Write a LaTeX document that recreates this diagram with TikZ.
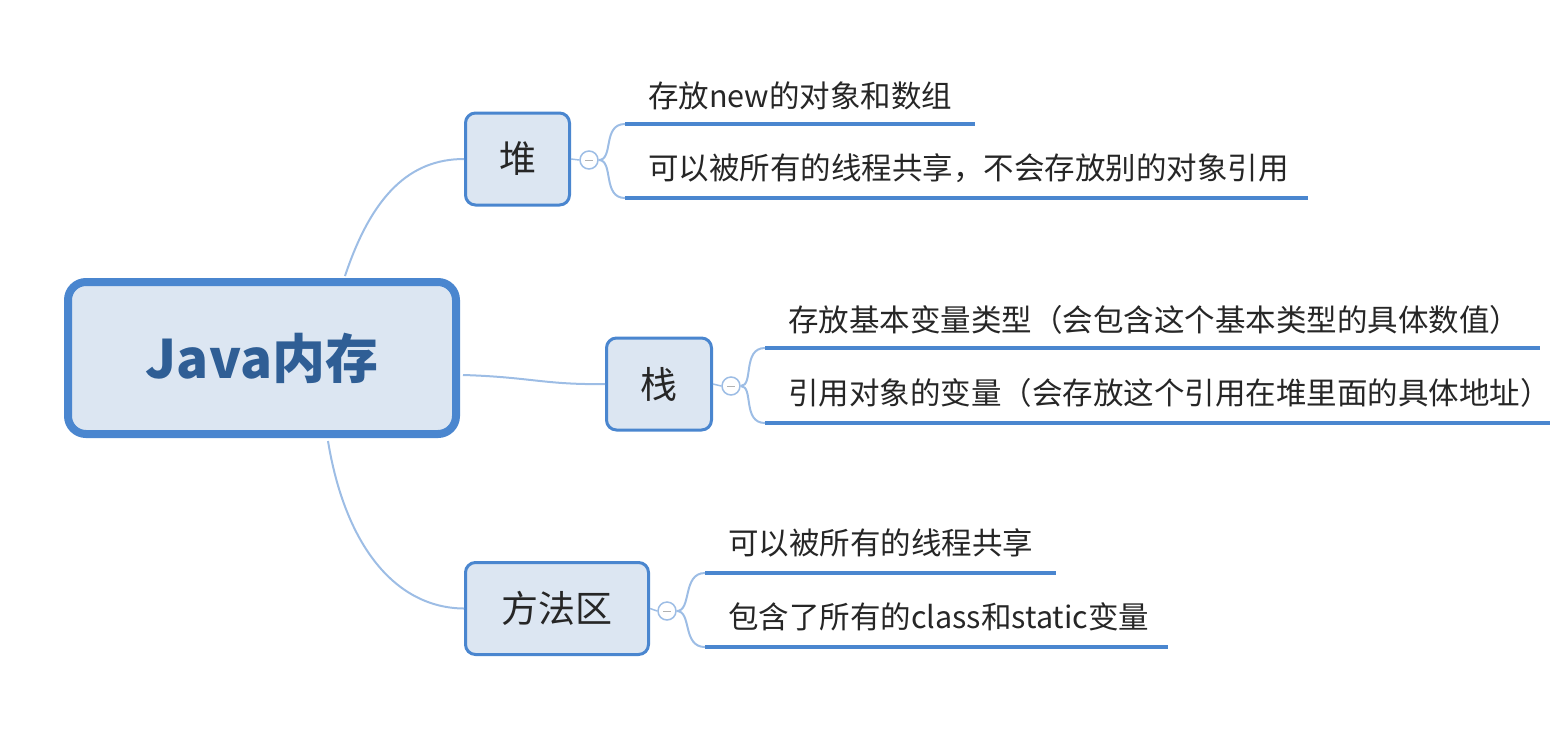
\documentclass[tikz,border=0pt]{standalone}
\usepackage{fontspec}
\setmainfont{Noto Sans CJK SC}
\definecolor{boxblue}{HTML}{4A86CF}
\definecolor{boxfill}{HTML}{DCE6F2}
\definecolor{linkblue}{HTML}{9DBDE5}
\definecolor{maintext}{HTML}{2F5E95}
\definecolor{subtext}{HTML}{262626}
\tikzset{
  mainbox/.style={draw=boxblue, line width=8pt, fill=boxfill, rounded corners=18pt, minimum width=388pt, minimum height=152pt, text=maintext, font=\fontsize{53}{62}\selectfont\bfseries},
  topicbox/.style={draw=boxblue, line width=3pt, fill=boxfill, rounded corners=10pt, minimum height=92pt, text=subtext, font=\fontsize{37}{44}\selectfont, inner xsep=0pt},
  link/.style={draw=linkblue, line width=2pt},
  collapse/.style={circle, draw=linkblue, fill=white, line width=1.5pt, minimum size=18pt, inner sep=0pt},
  under/.style={draw=boxblue, line width=4.5pt},
  leaf/.style={anchor=west, inner sep=0pt, text=subtext, font=\fontsize{30.5}{36}\selectfont},
}
\begin{document}
\begin{tikzpicture}[x=1pt,y=-1pt]
\useasboundingbox (0,0) rectangle (1550,748);

% main
\node[mainbox] (main) at (262,358) {Java内存};

% topics
\node[topicbox, minimum width=104pt] (heap) at (517.5,159) {堆};
\node[topicbox, minimum width=105pt] (stack) at (659,384) {栈};
\node[topicbox, minimum width=183pt] (method) at (557,608.5) {方法区};

% links main -> topics
\coordinate (m1) at (345,276);
\coordinate (m2) at (463,375);
\coordinate (m3) at (328,441);
\draw[link] (m1) .. controls (372,195) and (410,159) .. (heap.west);
\draw[link] (m2) .. controls (530,377) and (545,385) .. (stack.west);
\draw[link] (m3) .. controls (345,545) and (395,608) .. (method.west);

% collapse buttons
\node[collapse] (c1) at (589,160) {};
\node[collapse] (c2) at (731,386) {};
\node[collapse] (c3) at (667,611) {};
\foreach \c in {c1,c2,c3}{
  \draw[draw=gray!60, line width=1pt] ([xshift=-4pt]\c.center) -- ([xshift=4pt]\c.center);
}
\draw[link, line width=1.5pt] (heap.east) -- (c1.west);
\draw[link, line width=1.5pt] (stack.east) -- (c2.west);
\draw[link, line width=1.5pt] (method.east) -- (c3.west);

% heap leaves
\coordinate (h1s) at (625,124); \coordinate (h1e) at (975,124);
\coordinate (h2s) at (625,198); \coordinate (h2e) at (1308,198);
\draw[link] (c1.east) .. controls (614,160) and (602,124) .. (h1s);
\draw[link] (c1.east) .. controls (614,160) and (602,198) .. (h2s);
\draw[under] (h1s) -- (h1e);
\draw[under] (h2s) -- (h2e);
\node[leaf] (h1) at (648,96) {存放new的对象和数组};
\node[leaf] (h2) at (648,168) {可以被所有的线程共享，不会存放别的对象引用};

% stack leaves
\coordinate (s1s) at (765,348); \coordinate (s1e) at (1540,348);
\coordinate (s2s) at (765,423); \coordinate (s2e) at (1552,423);
\draw[link] (c2.east) .. controls (754,386) and (742,348) .. (s1s);
\draw[link] (c2.east) .. controls (754,386) and (742,423) .. (s2s);
\draw[under] (s1s) -- (s1e);
\draw[under] (s2s) -- (s2e);
\node[leaf] (s1) at (788,320) {存放基本变量类型（会包含这个基本类型的具体数值）};
\node[leaf] (s2) at (788,393) {引用对象的变量（会存放这个引用在堆里面的具体地址）};

% method leaves
\coordinate (f1s) at (705,573); \coordinate (f1e) at (1056,573);
\coordinate (f2s) at (705,647); \coordinate (f2e) at (1168,647);
\draw[link] (c3.east) .. controls (692,611) and (682,573) .. (f1s);
\draw[link] (c3.east) .. controls (692,611) and (682,647) .. (f2s);
\draw[under] (f1s) -- (f1e);
\draw[under] (f2s) -- (f2e);
\node[leaf] (f1) at (728,543) {可以被所有的线程共享};
\node[leaf] (f2) at (728,617) {包含了所有的class和static变量};
\end{tikzpicture}
\end{document}
